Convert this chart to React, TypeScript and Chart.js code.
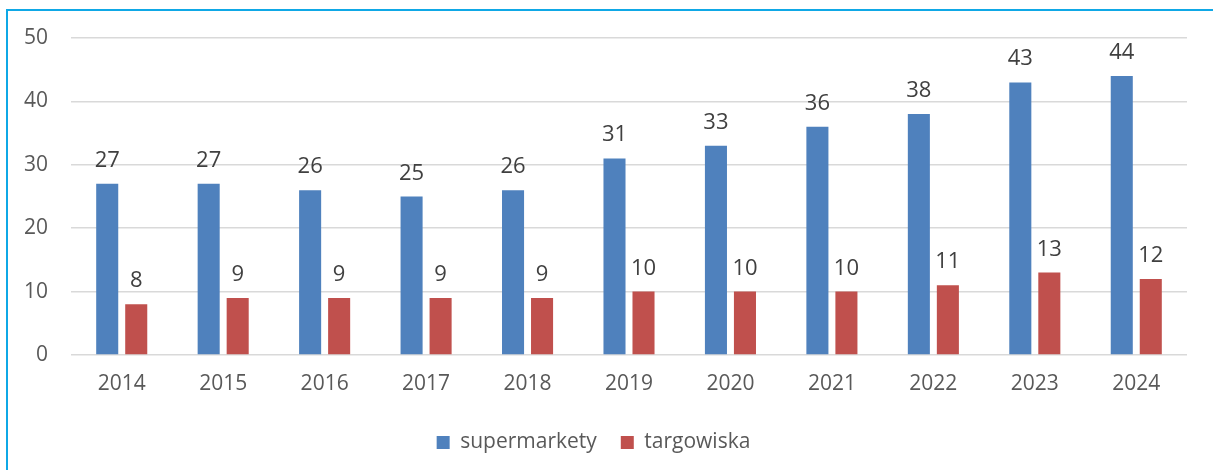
import React, { useEffect, useRef } from "react";
import { Chart, registerables } from "chart.js";

Chart.register(...registerables);

const years = ["2014", "2015", "2016", "2017", "2018", "2019", "2020", "2021", "2022", "2023", "2024"];
const supermarkety = [27, 27, 26, 25, 26, 31, 33, 36, 38, 43, 44];
const targowiska = [8, 9, 9, 9, 9, 10, 10, 10, 11, 13, 12];
const seriesNames = ["supermarkety", "targowiska"];
const yTicks = [0, 10, 20, 30, 40, 50];

const FONT = "'Open Sans', sans-serif";

const labelPlugin = {
  id: "barLabels",
  afterDatasetsDraw(chart: any) {
    const ctx = chart.ctx;
    ctx.save();
    ctx.font = `22px ${FONT}`;
    ctx.fillStyle = "#404040";
    ctx.textAlign = "center";
    ctx.textBaseline = "alphabetic";
    chart.data.datasets.forEach((ds: any, i: number) => {
      const meta = chart.getDatasetMeta(i);
      meta.data.forEach((bar: any, j: number) => {
        ctx.fillText(String(ds.data[j]), bar.x, bar.y - 17);
      });
    });
    ctx.restore();
  },
};

export default function App() {
  const ref = useRef<HTMLCanvasElement>(null);
  useEffect(() => {
    if (!ref.current) return;
    const chart = new Chart(ref.current, {
      type: "bar",
      data: {
        labels: years,
        datasets: [
          {
            label: seriesNames[0],
            data: supermarkety,
            backgroundColor: "#4F81BD",
            categoryPercentage: 0.572,
            barPercentage: 0.76,
          },
          {
            label: seriesNames[1],
            data: targowiska,
            backgroundColor: "#C0504D",
            categoryPercentage: 0.572,
            barPercentage: 0.76,
          },
        ],
      },
      options: {
        animation: false,
        responsive: false,
        maintainAspectRatio: false,
        layout: { padding: { left: 0, right: 26, top: 38, bottom: 27 } },
        plugins: {
          tooltip: { enabled: false },
          legend: {
            position: "bottom",
            labels: {
              font: { family: FONT, size: 21 },
              color: "#595959",
              boxWidth: 13,
              boxHeight: 13,
              padding: 24,
            },
          },
        },
        scales: {
          x: {
            grid: { display: false, drawTicks: false },
            border: { display: false },
            ticks: { font: { family: FONT, size: 21 }, color: "#595959", padding: 16 },
            afterFit: (s: any) => {
              s.height = 53;
            },
          },
          y: {
            min: 0,
            max: 50,
            afterBuildTicks: (s: any) => {
              s.ticks = yTicks.map((v) => ({ value: v }));
            },
            grid: { color: "#D9D9D9", lineWidth: 1.5, drawTicks: false },
            border: { display: false },
            ticks: { font: { family: FONT, size: 21 }, color: "#595959", padding: 23 },
            afterFit: (s: any) => {
              s.width = 71;
            },
          },
        },
      },
      plugins: [labelPlugin],
    });
    return () => chart.destroy();
  }, []);
  return (
    <div style={{ position: "fixed", left: 0, top: 0, width: 1213, height: 470, background: "#fff", overflow: "hidden" }}>
      <div
        style={{
          position: "absolute",
          left: 6,
          top: 9,
          width: 1300,
          height: 600,
          borderLeft: "2px solid #0FA8E6",
          borderTop: "2px solid #0FA8E6",
        }}
      />
      <canvas ref={ref} width={1213} height={490} style={{ position: "absolute", left: 0, top: 0 }} />
    </div>
  );
}
